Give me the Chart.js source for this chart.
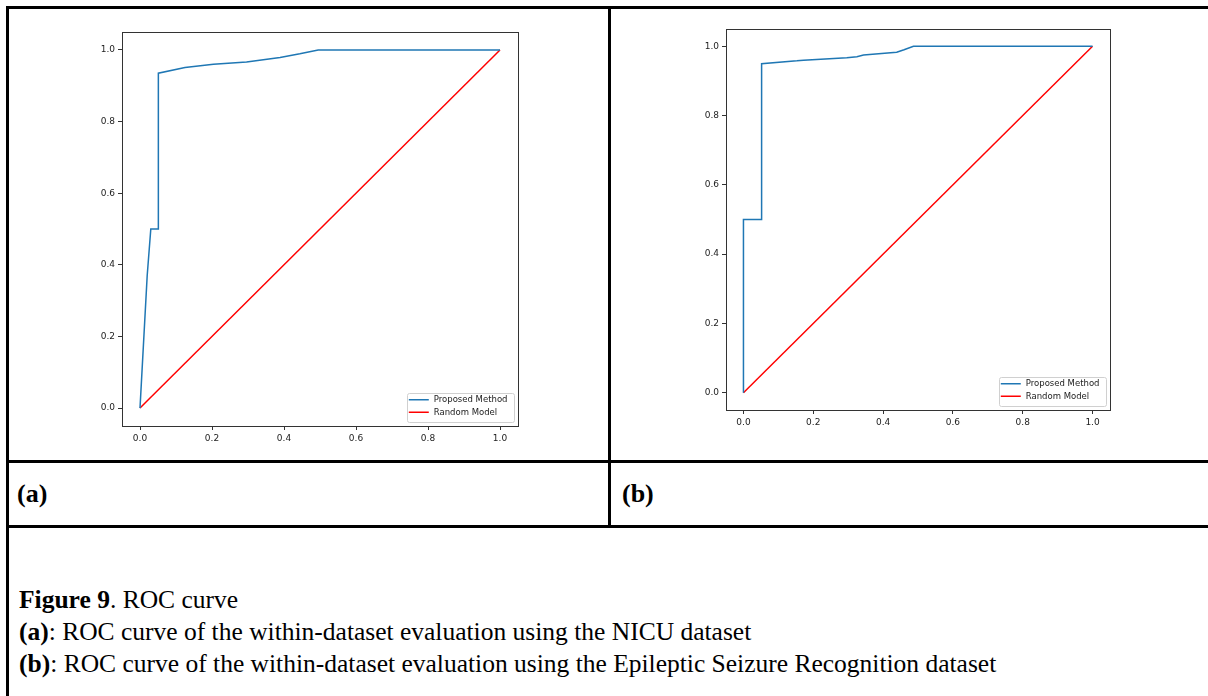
<!DOCTYPE html>
<html>
<head>
<meta charset="utf-8">
<script src="https://cdn.jsdelivr.net/npm/chart.js@4.4.0/dist/chart.umd.min.js"></script>
<style>
    body { margin: 0; background: #fff; width: 1208px; height: 696px; overflow: hidden; position: relative; font-family: "Liberation Serif", "Times New Roman", serif; color: #000; }
    .rule { position: absolute; background: #000; }
    canvas { position: absolute; }
    .panel-label { position: absolute; font-size: 26px; font-weight: bold; line-height: 30px; }
    .caption { position: absolute; left: 19px; font-size: 25.5px; line-height: 30px; white-space: nowrap; }
</style>
</head>
<body>
<!-- table rules -->
<div class="rule" style="left:6px; top:6px; width:1202px; height:3px;"></div>
<div class="rule" style="left:6px; top:6px; width:3px; height:690px;"></div>
<div class="rule" style="left:608px; top:6px; width:3px; height:521px;"></div>
<div class="rule" style="left:6px; top:460px; width:1202px; height:3px;"></div>
<div class="rule" style="left:6px; top:525px; width:1202px; height:3px;"></div>

<canvas id="rocA" width="470" height="440" style="left:62px; top:20px; width:470px; height:440px;"></canvas>
<canvas id="rocB" width="460" height="430" style="left:666px; top:15px; width:460px; height:430px;"></canvas>

<div class="panel-label" style="left:17px; top:479px;">(a)</div>
<div class="panel-label" style="left:622px; top:479px;">(b)</div>

<div class="caption" style="top:585px;"><b>Figure 9</b>. ROC curve</div>
<div class="caption" style="top:617px;"><b>(a)</b>: ROC curve of the within-dataset evaluation using the NICU dataset</div>
<div class="caption" style="top:649px;"><b>(b)</b>: ROC curve of the within-dataset evaluation using the Epileptic Seizure Recognition dataset</div>

<script>
// ROC curves.

const tickValues = [0.0, 0.2, 0.4, 0.6, 0.8, 1.0];
const seriesNames = ['Proposed Method', 'Random Model'];

// (a) NICU dataset
const nicuFpr = [0, 0.02, 0.03, 0.051, 0.051, 0.125, 0.204, 0.296, 0.389, 0.444, 0.495, 1.0];
const nicuTpr = [0, 0.37, 0.5, 0.5, 0.935, 0.951, 0.96, 0.966, 0.979, 0.989, 1.0, 1.0];

// (b) Epileptic Seizure Recognition dataset
const eegFpr = [0, 0, 0.052, 0.052, 0.153, 0.172, 0.296, 0.325, 0.344, 0.439, 0.46, 0.487, 1.0];
const eegTpr = [0, 0.5, 0.5, 0.95, 0.958, 0.96, 0.967, 0.97, 0.975, 0.983, 0.99, 1.0, 1.0];

// diagonal
const randomFpr = [0, 1];
const randomTpr = [0, 1];


function toPoints(xs, ys) {
    return xs.map((x, i) => ({ x: x, y: ys[i] }));
}


// Draw the full box round the plot, like matplotlib does
const frameBox = {
    id: 'frameBox',
    afterDraw(chart) {
        const { ctx, chartArea } = chart;
        ctx.save();
        ctx.strokeStyle = '#333';
        ctx.lineWidth = 1;
        ctx.strokeRect(Math.round(chartArea.left) + 0.5, Math.round(chartArea.top) + 0.5,
            Math.round(chartArea.right - chartArea.left), Math.round(chartArea.bottom - chartArea.top));
        ctx.restore();
    }
};

// Legend box in the lower right corner of the plot
const cornerLegend = {
    id: 'cornerLegend',
    afterDraw(chart, args, opts) {
        const { ctx, chartArea } = chart;
        const items = chart.data.datasets;
        ctx.save();
        ctx.font = opts.fontSize + 'px "DejaVu Sans"';
        const textW = Math.max(...items.map(d => ctx.measureText(d.label).width));
        const w = 27 + textW + 6;
        const h = items.length * opts.rowHeight + 4;
        const x = chartArea.right - opts.inset - w;
        const y = chartArea.bottom - opts.inset - h;

        ctx.fillStyle = 'rgba(255,255,255,0.85)';
        ctx.strokeStyle = '#d0d0d0';
        ctx.lineWidth = 1;
        ctx.beginPath();
        ctx.roundRect(Math.round(x) + 0.5, Math.round(y) + 0.5, Math.round(w), Math.round(h), 2);
        ctx.fill();
        ctx.stroke();

        items.forEach((d, i) => {
            const cy = y + 1 + opts.rowHeight * (i + 0.5);
            ctx.strokeStyle = d.borderColor;
            ctx.lineWidth = 1.5;
            ctx.beginPath();
            ctx.moveTo(x + 2, cy);
            ctx.lineTo(x + 22, cy);
            ctx.stroke();
            ctx.fillStyle = '#222';
            ctx.textBaseline = 'middle';
            ctx.textAlign = 'left';
            ctx.fillText(d.label, x + 27, cy + 0.5);
        });
        ctx.restore();
    }
};


function axisOptions(isY, size) {
    return {
        type: 'linear',
        min: -0.05,
        max: 1.05,
        afterBuildTicks: scale => {
            scale.ticks = tickValues.map(v => ({ value: v }));
        },
        afterFit: scale => {
            if (isY) {
                scale.width = size;
            } else {
                scale.height = size;
            }
        },
        ticks: {
            callback: v => Number(v).toFixed(1),
            font: { family: 'DejaVu Sans', size: 9 },
            color: '#222',
            padding: 3,
            maxRotation: 0,
            autoSkip: false
        },
        grid: {
            drawOnChartArea: false,
            drawTicks: true,
            tickLength: 4,
            color: '#333'
        },
        border: { display: true, color: '#333' }
    };
}


function renderRoc(canvasId, fpr, tpr, padding) {
    const ctx = document.getElementById(canvasId).getContext('2d');
    return new Chart(ctx, {
        type: 'scatter',
        data: {
            datasets: [
                {
                    label: seriesNames[0],
                    data: toPoints(fpr, tpr),
                    showLine: true,
                    borderColor: '#1f77b4',
                    backgroundColor: '#1f77b4',
                    borderWidth: 1.5,
                    pointRadius: 0,
                    tension: 0
                },
                {
                    label: seriesNames[1],
                    data: toPoints(randomFpr, randomTpr),
                    showLine: true,
                    borderColor: '#ff0000',
                    backgroundColor: '#ff0000',
                    borderWidth: 1.5,
                    pointRadius: 0,
                    tension: 0
                }
            ]
        },
        options: {
            responsive: false,
            animation: false,
            devicePixelRatio: 1,
            layout: { padding: padding },
            plugins: {
                legend: { display: false },
                tooltip: { enabled: false },
                cornerLegend: { fontSize: 8.5, rowHeight: 12.5, inset: 4.5 }
            },
            scales: {
                x: axisOptions(false, 24),
                y: axisOptions(true, 60)
            }
        },
        plugins: [frameBox, cornerLegend]
    });
}


renderRoc('rocA', nicuFpr, nicuTpr, { left: 0, right: 14, top: 12, bottom: 10 });
renderRoc('rocB', eegFpr, eegTpr, { left: 0, right: 16, top: 14, bottom: 11 });
</script>
</body>
</html>
